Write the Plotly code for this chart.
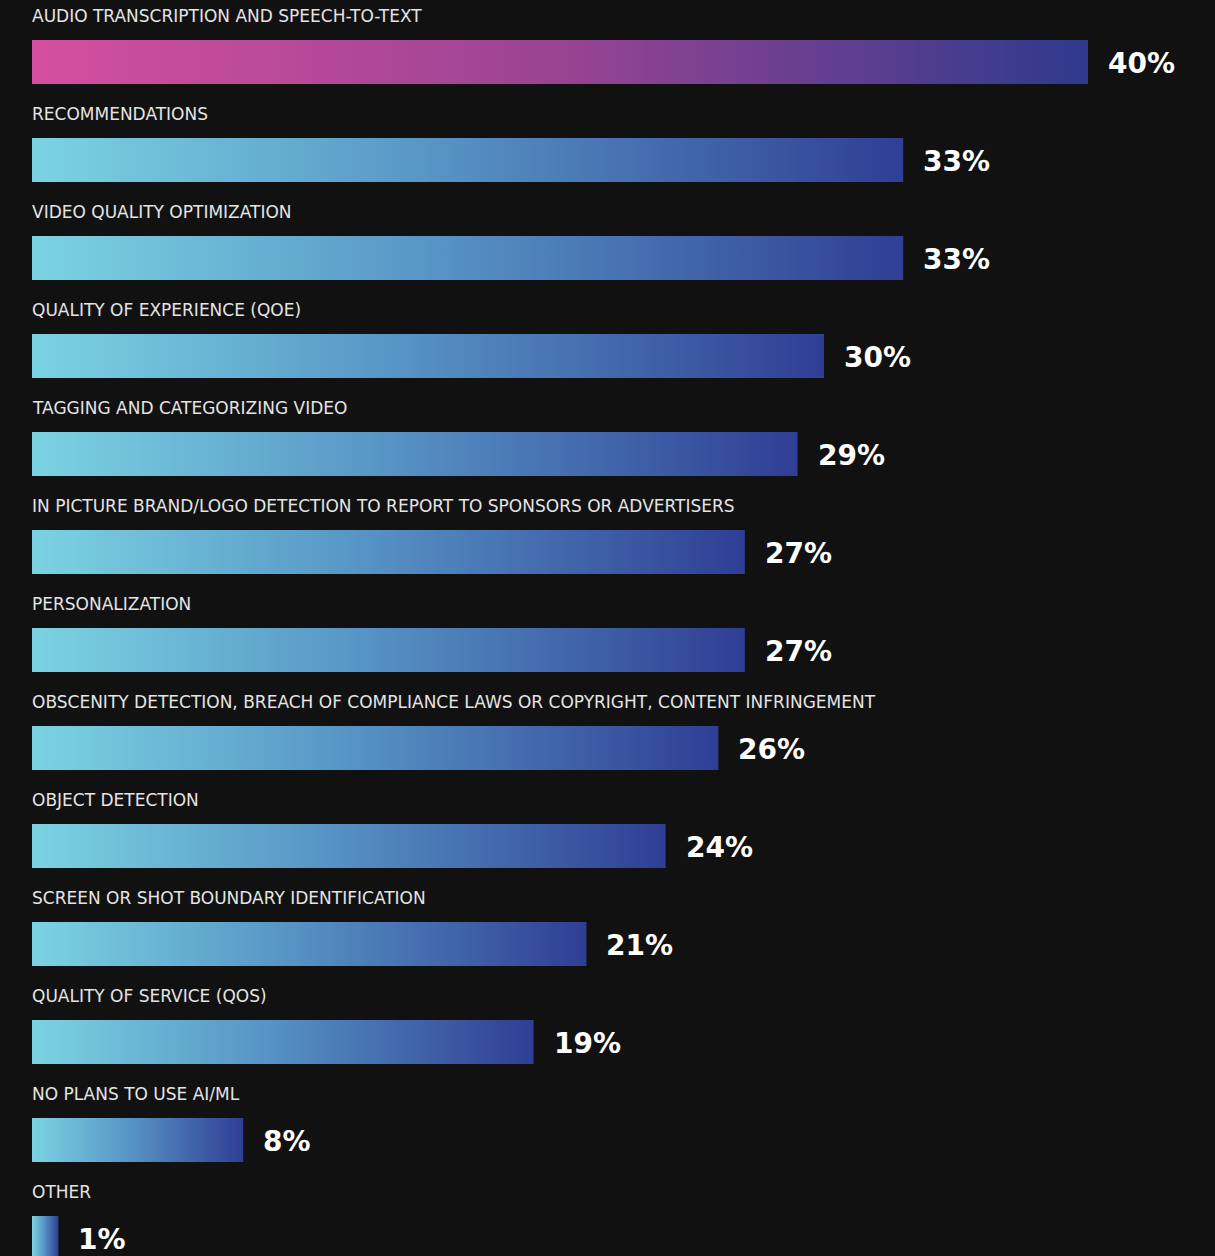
import plotly.graph_objects as go

categories = [
    "AUDIO TRANSCRIPTION AND SPEECH-TO-TEXT",
    "RECOMMENDATIONS",
    "VIDEO QUALITY OPTIMIZATION",
    "QUALITY OF EXPERIENCE (QOE)",
    "TAGGING AND CATEGORIZING VIDEO",
    "IN PICTURE BRAND/LOGO DETECTION TO REPORT TO SPONSORS OR ADVERTISERS",
    "PERSONALIZATION",
    "OBSCENITY DETECTION, BREACH OF COMPLIANCE LAWS OR COPYRIGHT, CONTENT INFRINGEMENT",
    "OBJECT DETECTION",
    "SCREEN OR SHOT BOUNDARY IDENTIFICATION",
    "QUALITY OF SERVICE (QOS)",
    "NO PLANS TO USE AI/ML",
    "OTHER",
]
values = [40, 33, 33, 30, 29, 27, 27, 26, 24, 21, 19, 8, 1]
value_labels = ["40%", "33%", "33%", "30%", "29%", "27%", "27%", "26%", "24%", "21%", "19%", "8%", "1%"]

BG = "#111111"
blue_scale = [[0, "#7bd3e2"], [0.45, "#5896c6"], [1, "#2f3e94"]]
pink_scale = [[0, "#d44f9f"], [0.5, "#9a4393"], [1, "#2e3a8d"]]

HALF = 0.2245
fig = go.Figure()
for i, (cat, v) in enumerate(zip(categories, values)):
    scale = pink_scale if i == 0 else blue_scale
    fig.add_trace(go.Scatter(
        x=[0, v, v, 0, 0],
        y=[i - HALF, i - HALF, i + HALF, i + HALF, i - HALF],
        mode="lines",
        fill="toself",
        fillgradient=dict(type="horizontal", colorscale=scale),
        line=dict(width=0, color="rgba(0,0,0,0)"),
        hoverinfo="skip",
        showlegend=False,
    ))
    fig.add_annotation(
        x=0, y=i, xref="x", yref="y", text=cat, showarrow=False,
        xanchor="left", yanchor="middle", yshift=46, xshift=-2,
        font=dict(family="DejaVu Sans", size=17, color="#e4e4e4"),
    )
    fig.add_annotation(
        x=v, y=i, xref="x", yref="y", text=value_labels[i], showarrow=False,
        xanchor="left", yanchor="middle", xshift=18, yshift=-1,
        font=dict(family="DejaVu Sans", size=28, color="#ffffff", weight="bold"),
    )

fig.update_layout(
    width=1215, height=1256,
    margin=dict(l=32, r=0, t=0, b=0),
    paper_bgcolor=BG, plot_bgcolor=BG,
    xaxis=dict(range=[0, 1183 / 26.4], visible=False, fixedrange=True),
    yaxis=dict(range=[(1256 - 62) / 98, -62 / 98], visible=False, fixedrange=True),
    showlegend=False,
)
fig.write_html(
    "out.html",
    config={"displayModeBar": False},
    post_script="document.body.style.margin='0';document.body.style.background='#111111';",
)
